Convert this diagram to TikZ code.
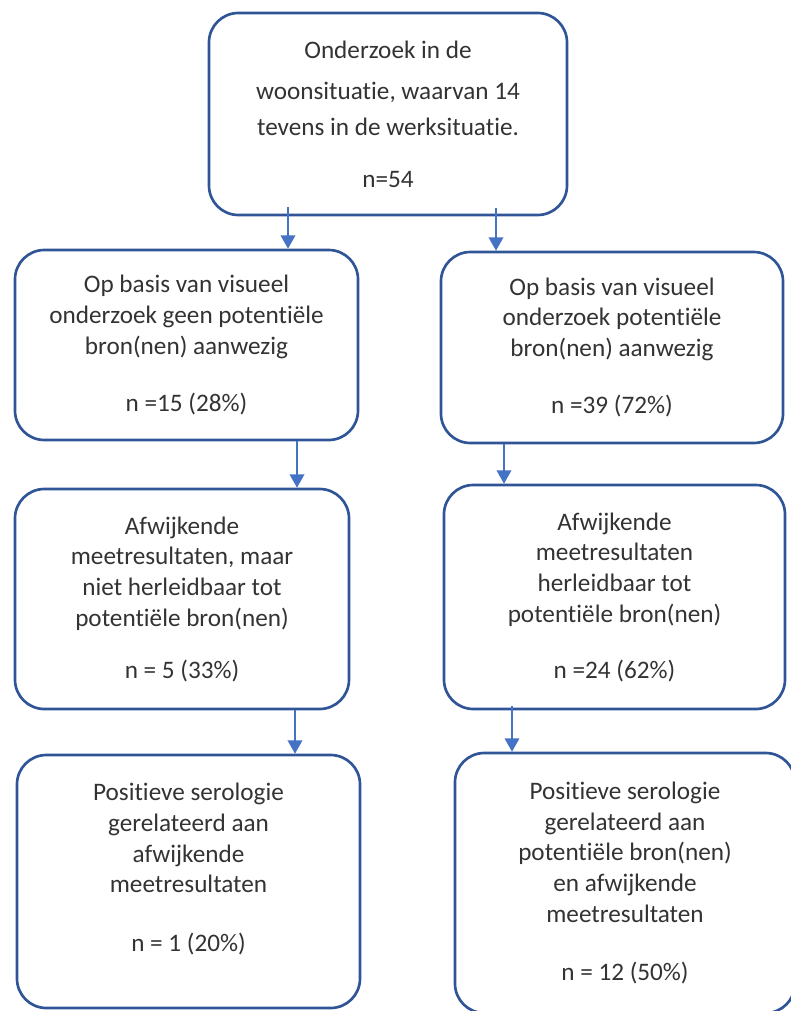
\documentclass[tikz,border=0pt]{standalone}
\usepackage{fontspec}
\setmainfont{Carlito}[Ligatures=NoCommon]
\usetikzlibrary{arrows.meta}
\definecolor{rand}{HTML}{2F5597}
\definecolor{pijlblauw}{HTML}{4472C4}
\definecolor{tekst}{HTML}{333333}

\begin{document}
\begin{tikzpicture}[x=0.75pt, y=-0.75pt,
    kader/.style={draw=rand, line width=2pt, rounded corners=22pt, align=center,
      text=tekst, font=\fontsize{18.9}{23}\selectfont, inner sep=0pt},
    maat/.style 2 args={minimum width=#1*0.75pt, minimum height=#2*0.75pt},
    pijl/.style={draw=pijlblauw, line width=1.2pt, -{Triangle[width=11pt,length=10pt]}}]

  \useasboundingbox (0,0) rectangle (790,1011);

  % bovenste kader
  \node[kader, maat={358}{202}] (onderzoek) at (388,114)
    {Onderzoek in de\\[8pt] woonsituatie, waarvan 14\\[4pt] tevens in de werksituatie.\\[16pt] n=54};

  % eerste rij
  \node[kader, maat={343}{190}] (geen) at (186.5,345)
    {Op basis van visueel\\ onderzoek geen potentiële\\ bron(nen) aanwezig\\[20pt] n =15 (28\%)};
  \node[kader, maat={342}{191}] (wel) at (612,347.5)
    {Op basis van visueel\\ onderzoek potentiële\\ bron(nen) aanwezig\\[20pt] n =39 (72\%)};

  % tweede rij
  \node[kader, maat={334}{220}] (afwL) at (182,599)
    {Afwijkende\\ meetresultaten, maar\\ niet herleidbaar tot\\ potentiële bron(nen)\\[16pt] n = 5 (33\%)};
  \node[kader, maat={341}{224}] (afwR) at (614.5,597)
    {Afwijkende\\ meetresultaten\\ herleidbaar tot\\ potentiële bron(nen)\\[19pt] n =24 (62\%)};

  % derde rij
  \node[kader, maat={343}{253}] (serL) at (188.5,881.5)
    {Positieve serologie\\ gerelateerd aan\\ afwijkende\\ meetresultaten\\[21pt] n = 1 (20\%)\\[-2pt]};
  \node[kader, maat={340}{260}] (serR) at (625,883)
    {Positieve serologie\\ gerelateerd aan\\ potentiële bron(nen)\\ en afwijkende\\ meetresultaten\\[21pt] n = 12 (50\%)};

  % pijlen
  \draw[pijl] ([yshift=7pt]onderzoek.south -| 288,0) -- (geen.north -| 288,0);
  \draw[pijl] ([yshift=6pt]onderzoek.south -| 496,0) -- (wel.north -| 496,0);
  \draw[pijl] (geen.south -| 297,0) -- (afwL.north -| 297,0);
  \draw[pijl] (wel.south -| 504,0) -- (afwR.north -| 504,0);
  \draw[pijl] (afwL.south -| 295,0) -- (serL.north -| 295,0);
  \draw[pijl] ([yshift=3pt]afwR.south -| 512,0) -- (serR.north -| 512,0);
\end{tikzpicture}
\end{document}
